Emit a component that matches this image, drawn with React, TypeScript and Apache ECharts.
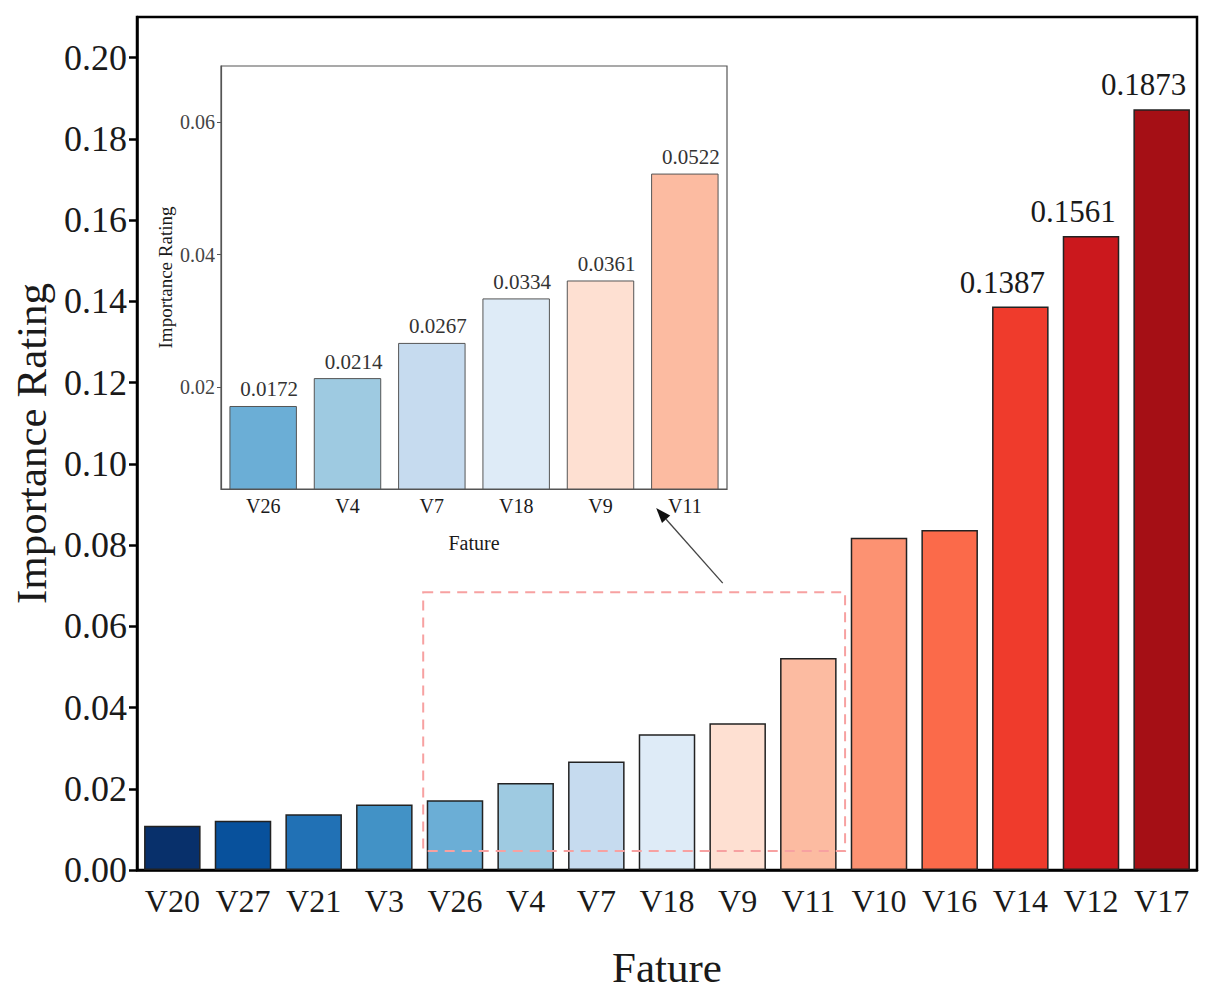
import { useEffect, useRef } from 'react'
import * as echarts from 'echarts'

// main chart data
const features = ['V20', 'V27', 'V21', 'V3', 'V26', 'V4', 'V7', 'V18', 'V9', 'V11', 'V10', 'V16', 'V14', 'V12', 'V17']
const ratings = [0.0109, 0.0121, 0.0137, 0.0161, 0.0172, 0.0214, 0.0267, 0.0334, 0.0361, 0.0522, 0.0818, 0.0837, 0.1387, 0.1561, 0.1873]
const barColors = [
  '#08306b', '#08519c', '#2171b5', '#4292c6', '#6baed6', '#9ecae1', '#c6dbef', '#deebf7',
  '#fee0d2', '#fcbba1', '#fc9272', '#fb6a4a', '#ef3b2c', '#cb181d', '#a50f15',
]
// only the three largest bars carry a label in the main chart
const labeledFeatures = ['V14', 'V12', 'V17']

// inset (zoomed) data
const insetFeatures = ['V26', 'V4', 'V7', 'V18', 'V9', 'V11']
const insetRatings = [0.0172, 0.0214, 0.0267, 0.0334, 0.0361, 0.0522]
const insetMin = 0.0047
const insetMax = 0.0684
const insetTicks = [0.02, 0.04, 0.06]

const FONT = "'Liberation Serif', 'DejaVu Serif', 'Times New Roman', serif"
const TEXT = '#1a1a1a'

function App() {
  const chartRef = useRef<HTMLDivElement>(null)

  useEffect(() => {
    if (!chartRef.current) return
    const chart = echarts.init(chartRef.current, undefined, { renderer: 'svg' })

    const option: echarts.EChartsOption = {
      animation: false,
      backgroundColor: '#ffffff',
      textStyle: { fontFamily: FONT },
      grid: [
        {
          left: 137, right: 16, top: 17, bottom: 127,
          show: true, borderColor: '#000', borderWidth: 2.5,
        },
        {
          left: 221, right: 486, top: 66, bottom: 508,
          show: true, borderColor: '#555', borderWidth: 1.2, backgroundColor: '#ffffff',
        },
      ],
      xAxis: [
        {
          type: 'category',
          gridIndex: 0,
          data: features,
          name: 'Fature',
          nameLocation: 'middle',
          nameGap: 76,
          nameTextStyle: { fontFamily: FONT, fontSize: 43, color: TEXT },
          axisLine: { lineStyle: { color: '#000', width: 2.5 } },
          axisTick: { show: false },
          axisLabel: { interval: 0, fontFamily: FONT, fontSize: 32, color: TEXT, margin: 15 },
        },
        {
          type: 'category',
          gridIndex: 1,
          data: insetFeatures,
          name: 'Fature',
          nameLocation: 'middle',
          nameGap: 44,
          nameTextStyle: { fontFamily: FONT, fontSize: 20, color: TEXT },
          axisLine: { lineStyle: { color: '#555', width: 1.2 } },
          axisTick: { show: false },
          axisLabel: { interval: 0, fontFamily: FONT, fontSize: 20, color: TEXT, margin: 7 },
        },
      ],
      yAxis: [
        {
          type: 'value',
          gridIndex: 0,
          min: 0,
          max: 0.21,
          interval: 0.02,
          name: 'Importance Rating',
          nameLocation: 'middle',
          nameGap: 78,
          nameTextStyle: { fontFamily: FONT, fontSize: 43, color: TEXT },
          axisLine: { show: true, lineStyle: { color: '#000', width: 2.5 } },
          axisTick: { show: true, length: 8, lineStyle: { color: '#000', width: 2.5 } },
          axisLabel: {
            fontFamily: FONT, fontSize: 36, color: TEXT, margin: 10,
            showMaxLabel: false,
            formatter: (v: number) => v.toFixed(2),
          },
          splitLine: { show: false },
        },
        {
          type: 'value',
          gridIndex: 1,
          min: insetMin,
          max: insetMax,
          name: 'Importance Rating',
          nameLocation: 'middle',
          nameGap: 46,
          nameTextStyle: { fontFamily: FONT, fontSize: 19, color: TEXT },
          axisLine: { show: true, lineStyle: { color: '#555', width: 1.2 } },
          axisTick: { show: true, length: 4, customValues: insetTicks, lineStyle: { color: '#555', width: 1 } },
          axisLabel: {
            fontFamily: FONT, fontSize: 20, color: '#444', margin: 6,
            customValues: insetTicks,
            formatter: (v: number) => v.toFixed(2),
          },
          splitLine: { show: false },
        },
      ],
      series: [
        {
          type: 'bar',
          xAxisIndex: 0,
          yAxisIndex: 0,
          barWidth: '80%',
          data: ratings.map((v, i) => ({
            value: v,
            itemStyle: { color: barColors[i] },
            label: { show: labeledFeatures.includes(features[i]) },
          })),
          itemStyle: { borderColor: '#222', borderWidth: 1.5 },
          label: {
            position: 'top',
            distance: 9,
            offset: [-18, 0],
            fontFamily: FONT,
            fontSize: 31,
            color: TEXT,
            formatter: (p: any) => Number(p.value).toFixed(4),
          },
        },
        {
          type: 'bar',
          xAxisIndex: 1,
          yAxisIndex: 1,
          barWidth: '80%',
          data: insetRatings.map((v, i) => ({
            value: v,
            itemStyle: { color: barColors[features.indexOf(insetFeatures[i])] },
          })),
          itemStyle: { borderColor: '#555', borderWidth: 1 },
          label: {
            show: true,
            position: 'top',
            distance: 6,
            offset: [6, 0],
            fontFamily: FONT,
            fontSize: 21,
            color: '#333',
            formatter: (p: any) => Number(p.value).toFixed(4),
          },
        },
      ],
    }

    chart.setOption(option)

    // zoom box around V26..V11 on the main chart, and an arrow pointing at the inset
    const catW = 1060 / features.length
    const xLeft = (chart.convertToPixel({ xAxisIndex: 0 }, insetFeatures[0]) as number) - 0.45 * catW
    const xRight = (chart.convertToPixel({ xAxisIndex: 0 }, insetFeatures[insetFeatures.length - 1]) as number) + 0.52 * catW
    const yTop = chart.convertToPixel({ yAxisIndex: 0 }, insetMax) as number
    const yBottom = chart.convertToPixel({ yAxisIndex: 0 }, insetMin) as number

    const sx = xLeft + 0.71 * (xRight - xLeft)
    const sy = yTop - 9
    const ex = 221 + 0.86 * (1213 - 486 - 221)
    const ey = 997 - 508 + 19
    const ang = Math.atan2(ey - sy, ex - sx)
    const headL = 15
    const headW = 5.5
    const bx = ex - headL * Math.cos(ang)
    const by = ey - headL * Math.sin(ang)
    const nx = -Math.sin(ang)
    const ny = Math.cos(ang)

    chart.setOption({
      graphic: [
        {
          type: 'rect',
          shape: { x: xLeft, y: yTop, width: xRight - xLeft, height: yBottom - yTop },
          style: { fill: 'none', stroke: '#f7a1a1', lineWidth: 2, lineDash: [10, 7] },
          z: 100,
        },
        {
          type: 'line',
          shape: { x1: sx, y1: sy, x2: bx, y2: by },
          style: { stroke: '#444', lineWidth: 1.3 },
          z: 100,
        },
        {
          type: 'polygon',
          shape: {
            points: [
              [ex, ey],
              [bx + nx * headW, by + ny * headW],
              [bx - nx * headW, by - ny * headW],
            ],
          },
          style: { fill: '#111' },
          z: 100,
        },
      ],
    })

    return () => {
      chart.dispose()
    }
  }, [])

  return (
    <div
      ref={chartRef}
      style={{ position: 'absolute', left: 0, top: 0, width: 1213, height: 997 }}
    />
  )
}

export default App
